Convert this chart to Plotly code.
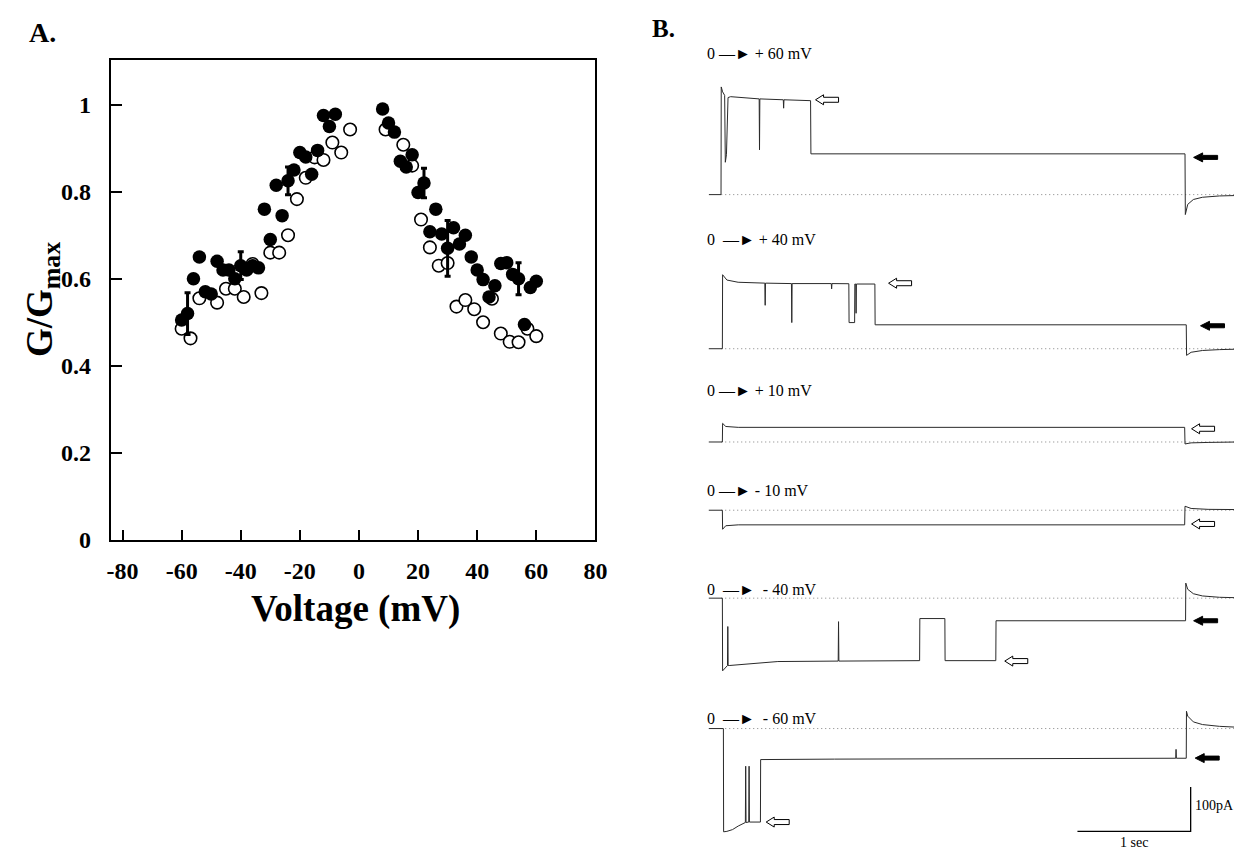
import plotly.graph_objects as go

W, H = 1242, 853

# ---------------- Panel A data ----------------
v_filled = [-60, -58, -56, -54, -52, -50, -48, -46, -44, -42, -40, -38, -36, -34, -32, -30,
            -28, -26, -24, -22, -20, -18, -16, -14, -12, -10, -8,
            8, 10, 12, 14, 16, 18, 20, 22, 24, 26, 28, 30, 32, 34, 36, 38, 40, 42, 44, 46,
            48, 50, 52, 54, 56, 58, 60]
g_filled = [0.505, 0.52, 0.60, 0.65, 0.57, 0.565, 0.64, 0.62, 0.62, 0.60, 0.63, 0.62, 0.63, 0.625,
            0.76, 0.69, 0.815, 0.745, 0.825, 0.85, 0.89, 0.88, 0.84, 0.895, 0.975, 0.95, 0.978,
            0.99, 0.958, 0.937, 0.87, 0.857, 0.885, 0.798, 0.82, 0.708, 0.76, 0.703, 0.67, 0.717,
            0.68, 0.70, 0.65, 0.62, 0.598, 0.558, 0.584, 0.635, 0.637, 0.61, 0.60, 0.495, 0.58, 0.594]
err_filled = [None, 0.048, None, None, None, None, None, None, None, None, 0.032, None, None, None,
              None, None, None, None, 0.032, None, None, None, None, None, None, None, None,
              None, None, None, None, None, None, None, 0.034, None, None, None, 0.064, None,
              None, None, None, None, None, None, None, None, None, None, 0.037, None, None, None]

v_open = [-60, -57, -54, -48, -45, -42, -39, -36, -33, -30, -27, -24, -21, -18, -15, -12, -9, -6, -3,
          9, 15, 18, 21, 24, 27, 30, 33, 36, 39, 42, 45, 48, 51, 54, 57, 60]
g_open = [0.485, 0.463, 0.555, 0.545, 0.577, 0.577, 0.558, 0.634, 0.567, 0.66, 0.66, 0.70, 0.783,
          0.832, 0.879, 0.873, 0.913, 0.89, 0.943,
          0.943, 0.908, 0.86, 0.736, 0.672, 0.63, 0.636, 0.536, 0.551, 0.53, 0.50, 0.554, 0.474,
          0.455, 0.454, 0.485, 0.468]

x_ticks = [-80, -60, -40, -20, 0, 20, 40, 60, 80]
x_ticktext = ["-80", "-60", "-40", "-20", "0", "20", "40", "60", "80"]
y_ticks = [0, 0.2, 0.4, 0.6, 0.8, 1.0]
y_ticktext = ["0", "0.2", "0.4", "0.6", "0.8", "1"]

# ---------------- Panel B data (time in s, current in pA) ----------------
step_from = ["0", "0 ", "0", "0", "0 ", "0 "]
step_to = ["+ 60 mV", "+ 40 mV", "+ 10 mV", "- 10 mV", " - 40 mV", " - 60 mV"]

t_p60 = [-0.109, -0.002, 0.000, 0.012, 0.030, 0.036, 0.046, 0.060, 0.083, 0.335, 0.338, 0.341,
         0.548, 0.551, 0.554, 0.789, 0.792, 4.096, 4.099, 4.12, 4.17, 4.25, 4.40, 4.56]
i_p60 = [0, 0, 243, 232, 224, 73, 90, 219, 221, 216, 101, 216,
         214, 195, 214, 212, 92, 92, -45, -22, -11, -6, -3, -2]

t_p40 = [-0.11, 0.010, 0.012, 0.05, 0.149, 0.385, 0.388, 0.391, 0.620, 0.623, 0.626, 0.972, 0.975,
         0.978, 1.127, 1.129, 1.178, 1.180, 1.188, 1.191, 1.194, 1.357, 1.359, 4.107, 4.110,
         4.15, 4.25, 4.40, 4.56]
i_p40 = [0, 0, 167, 155, 150, 148, 98, 148, 147, 59, 147, 147, 135,
         147, 146.7, 59, 59, 146, 146, 80, 146, 146, 54, 54, -15,
         -8, -4, -2, -1]

t_p10 = [-0.11, 0.010, 0.012, 0.04, 0.15, 4.093, 4.096, 4.15, 4.30, 4.56]
i_p10 = [0, 0, 42, 35, 33, 33, -4.4, -2, -1, 0]

t_m10 = [-0.11, 0.010, 0.012, 0.04, 0.15, 4.093, 4.096, 4.15, 4.30, 4.56]
i_m10 = [0, 0, -43, -35, -33, -33, 9, 4, 2, 1.5]

t_m40 = [-0.11, 0.010, 0.012, 0.05, 0.055, 0.058, 0.061, 0.07, 0.5, 1.033, 1.036, 1.039, 1.752,
         1.754, 1.975, 1.977, 2.425, 2.427, 4.101, 4.103, 4.12, 4.17, 4.25, 4.40, 4.56]
i_m40 = [0, 0, -164, -155, -152, -64, -152, -152, -143, -142, -53, -142, -141,
         -46, -46, -141, -141, -51, -51, 34, 20, 10, 5, 2, 1]

t_m60 = [-0.11, 0.019, 0.021, 0.05, 0.10, 0.15, 0.213, 0.216, 0.219, 0.243, 0.246, 0.249, 0.346,
         0.348, 1.0, 2.5, 4.014, 4.017, 4.020, 4.107, 4.109, 4.12, 4.17, 4.25, 4.40, 4.56]
i_m60 = [0, 0, -233, -232, -228, -220, -212, -85, -212, -211, -85, -211, -211,
         -70, -69, -68, -67, -47, -67, -67, 39, 28, 15, 9, 5, 3]

baseline_t = [0.0, 4.56]

# arrow markers (tip time, tip current) per trace; None = no arrow
open_arrow_t = [0.833, 1.478, 4.154, 4.154, 2.504, 0.397]
open_arrow_i = [214, 147.8, 29.8, -31, -142, -211]
filled_arrow_t = [4.172, 4.233, None, None, 4.172, 4.186]
filled_arrow_i = [84, 51.8, None, None, -51, -66.7]

scale_time = 1.0      # s
scale_current = 100   # pA
scale_corner_t = 4.146
scale_corner_i = -232

traces_t = [t_p60, t_p40, t_p10, t_m10, t_m40, t_m60]
traces_i = [i_p60, i_p40, i_p10, i_m10, i_m40, i_m60]

# ---------------- layout helpers ----------------
def px(x):
    return x / W

def py(y):
    return 1 - y / H

SERIF = "Liberation Serif"
PX_PER_S = 114.7
PX_PER_PA = 0.45
T0_PX = 718.5
# (baseline pixel, band top, band bottom) for each trace sub-axis
bands = [(189.5, 60, 222), (346, 250, 360), (440.7, 405, 452),
         (510, 495, 540), (599.3, 570, 680), (731.7, 700, 850)]

fig = go.Figure()

# Panel A
fig.add_trace(go.Scatter(
    x=v_open, y=g_open, mode="markers", xaxis="x", yaxis="y",
    marker=dict(symbol="circle", size=12.5, color="white", line=dict(color="black", width=1.6)),
    showlegend=False, hoverinfo="x+y"))
fig.add_trace(go.Scatter(
    x=v_filled, y=g_filled, mode="markers", xaxis="x", yaxis="y",
    marker=dict(symbol="circle", size=13.5, color="black", line=dict(color="black", width=0)),
    error_y=dict(type="data", array=err_filled, visible=True, color="black", thickness=3, width=3),
    showlegend=False, hoverinfo="x+y"))

# Panel B traces
for k in range(6):
    ya = "y%d" % (k + 2)
    fig.add_trace(go.Scatter(
        x=baseline_t, y=[0, 0], mode="lines", xaxis="x2", yaxis=ya,
        line=dict(color="#808080", width=1, dash="1px,3px"), showlegend=False, hoverinfo="skip"))
    fig.add_trace(go.Scatter(
        x=traces_t[k], y=traces_i[k], mode="lines", xaxis="x2", yaxis=ya,
        line=dict(color="#2a2a2a", width=1), showlegend=False, hoverinfo="x+y"))

# scale bar (in bottom trace's axes)
fig.add_trace(go.Scatter(
    x=[scale_corner_t - scale_time, scale_corner_t, scale_corner_t],
    y=[scale_corner_i, scale_corner_i, scale_corner_i + scale_current],
    mode="lines", xaxis="x2", yaxis="y7",
    line=dict(color="black", width=1.3), showlegend=False, hoverinfo="skip"))

layout = dict(
    width=W, height=H, margin=dict(l=0, r=0, t=0, b=0),
    paper_bgcolor="white", plot_bgcolor="white",
    font=dict(family=SERIF, color="black"),
    xaxis=dict(domain=[px(100), px(591)], range=[-84, 80], tickvals=x_ticks, ticktext=x_ticktext,
               ticks="inside", ticklen=10, tickwidth=1.5, tickcolor="black",
               showline=True, linewidth=2, linecolor="black", mirror=True,
               showgrid=False, zeroline=False, ticklabelstandoff=8,
               tickfont=dict(family=SERIF, size=24, weight="bold", color="black"),
               anchor="y"),
    yaxis=dict(domain=[py(540), py(52.7)], range=[0, 1.103], tickvals=y_ticks, ticktext=y_ticktext,
               ticks="inside", ticklen=11, tickwidth=1.5, tickcolor="black",
               showline=True, linewidth=2, linecolor="black", mirror=True,
               showgrid=False, zeroline=False, ticklabelstandoff=13,
               tickfont=dict(family=SERIF, size=24, weight="bold", color="black"),
               anchor="x"),
    xaxis2=dict(domain=[px(700), 1.0],
                range=[(700 - T0_PX) / PX_PER_S, (W - T0_PX) / PX_PER_S],
                visible=False, anchor="y7"),
)
for k, (b, top, bot) in enumerate(bands):
    layout["yaxis%d" % (k + 2)] = dict(
        domain=[py(bot), py(top)],
        range=[(b - bot) / PX_PER_PA, (b - top) / PX_PER_PA],
        visible=False, anchor="x2")

fig.update_layout(**layout)

annotations = [
    dict(text="<b>A.</b>", x=px(15), y=py(25), xref="paper", yref="paper",
         xanchor="left", yanchor="middle", showarrow=False, font=dict(size=28, family=SERIF)),
    dict(text="<b>B.</b>", x=px(646), y=py(21), xref="paper", yref="paper",
         xanchor="left", yanchor="middle", showarrow=False, font=dict(size=25, family=SERIF)),
    dict(text="<b>Voltage (mV)</b>", x=px(348), y=py(610), xref="paper", yref="paper",
         xanchor="center", yanchor="middle", showarrow=False, font=dict(size=37, family=SERIF)),
    dict(text="<b>G/G<sub>max</sub></b>", x=px(31), y=py(296),
         xref="paper", yref="paper",
         xanchor="center", yanchor="middle", textangle=-90, showarrow=False,
         font=dict(size=37, family=SERIF)),
    dict(text="100pA", x=px(1196), y=py(810), xref="paper", yref="paper",
         xanchor="left", yanchor="middle", showarrow=False, font=dict(size=14, family=SERIF)),
    dict(text="1 sec", x=px(1137), y=py(847), xref="paper", yref="paper",
         xanchor="center", yanchor="middle", showarrow=False, font=dict(size=14, family=SERIF)),
]
label_y = [46.7, 235, 388.3, 490, 590, 721.7]
arrow_glyph = "\u2014\u25ba"
for k in range(6):
    annotations.append(dict(text=step_from[k] + " " + arrow_glyph + " " + step_to[k],
                            x=px(702), y=py(label_y[k]), xref="paper",
                            yref="paper", xanchor="left", yanchor="middle", showarrow=False,
                            font=dict(size=16, family=SERIF)))
fig.update_layout(annotations=annotations)

open_path = "M0,0 L8,5 L8,2.5 L23,2.5 L23,-2.5 L8,-2.5 L8,-5 Z"
filled_path = "M0,0 L9,4.5 L9,2 L24,2 L24,-2 L9,-2 L9,-4.5 Z"
shapes = []
for k in range(6):
    ya = "y%d" % (k + 2)
    shapes.append(dict(type="path", xref="x2", yref=ya, xsizemode="pixel", ysizemode="pixel",
                       xanchor=open_arrow_t[k], yanchor=open_arrow_i[k], path=open_path,
                       fillcolor="white", line=dict(color="black", width=1)))
    if filled_arrow_t[k] is not None:
        shapes.append(dict(type="path", xref="x2", yref=ya, xsizemode="pixel", ysizemode="pixel",
                           xanchor=filled_arrow_t[k], yanchor=filled_arrow_i[k], path=filled_path,
                           fillcolor="black", line=dict(color="black", width=1)))
fig.update_layout(shapes=shapes)

fig.write_html("out.html")
